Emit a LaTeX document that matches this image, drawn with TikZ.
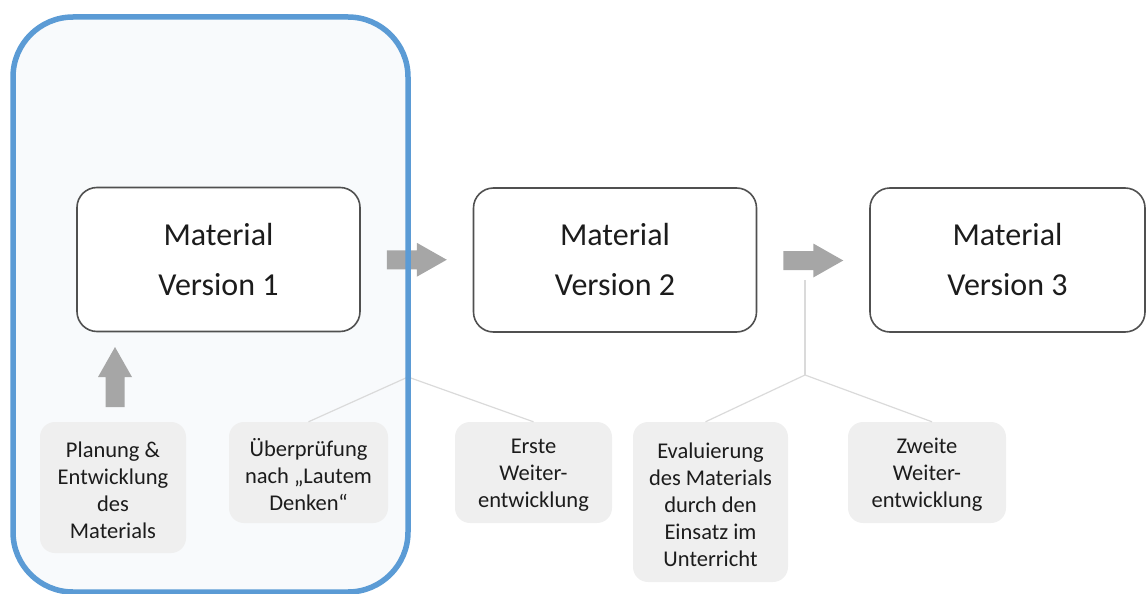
\documentclass[tikz,border=0pt]{standalone}
\usepackage{fontspec}
\setmainfont{Carlito}
\usetikzlibrary{calc}

\definecolor{frameblue}{HTML}{5B9BD5}
\definecolor{framefill}{HTML}{F8FAFC}
\definecolor{stepfill}{HTML}{EFEFEF}
\definecolor{blockgray}{HTML}{A6A6A6}
\definecolor{linkgray}{HTML}{DADADA}
\definecolor{boxline}{HTML}{505050}
\definecolor{ink}{HTML}{1C1C1C}

\tikzset{
  version/.style={draw=boxline, line width=1.6pt, fill=white, rounded corners=20pt,
    minimum width=283pt, minimum height=144pt, inner sep=0pt, align=center,
    text=ink, font=\fontsize{32}{50}\selectfont},
  stepbox/.style={fill=stepfill, rounded corners=15pt, inner sep=0pt, minimum height=101pt},
  steptext/.style={inner sep=0pt, align=center, text=ink,
    font=\fontsize{22.5}{27}\selectfont, yshift=-2.5pt},
  link/.style={draw=linkgray, line width=1.2pt},
  pics/blockarrow/.style={code={
    \fill[blockgray] (-30,-9.5) -- (0,-9.5) -- (0,-17) -- (30,0) -- (0,17)
      -- (0,9.5) -- (-30,9.5) -- cycle;}},
}

\begin{document}
\begin{tikzpicture}[x=1pt, y=-1pt]
  \useasboundingbox (0,0) rectangle (1146,594);

  % phase frame (background)
  \fill[framefill, rounded corners=60pt] (13,17) rectangle (408,592);

  % material versions
  \node[version] (m1) at (218.5,259.5) {Material\\Version 1};
  \node[version] (m2) at (615,260) {Material\\Version 2};
  \node[version, minimum width=275pt] (m3) at (1007.5,260) {Material\\Version 3};

  % working steps
  \node[stepbox, minimum width=146pt, minimum height=131pt,
    label={[steptext]center:{Planung \&\\Entwicklung\\des\\Materials}}] (p1) at (113,487.5) {};
  \node[stepbox, minimum width=159pt,
    label={[steptext]center:{Überprüfung\\nach „Lautem\\Denken“}}] (p2) at (308.5,472.5) {};
  \node[stepbox, minimum width=157pt,
    label={[steptext]center:{Erste\\Weiter-\\entwicklung}}] (p3) at (533.5,472.5) {};
  \node[stepbox, minimum width=155pt, minimum height=160pt,
    label={[steptext]center:{Evaluierung\\des Materials\\durch den\\Einsatz im\\Unterricht}}] (p4) at (710.5,502) {};
  \node[stepbox, minimum width=158pt,
    label={[steptext]center:{Zweite\\Weiter-\\entwicklung}}] (p5) at (927,472.5) {};

  % branch points of the step connectors
  \coordinate (a1foot) at (408,280);
  \coordinate (j1) at (408,377);
  \coordinate (a2foot) at (805,280);
  \coordinate (j2) at (805,375);

  \draw[link] (a1foot) -- (j1);
  \draw[link] (j1) -- (p2.north);
  \draw[link] (j1) -- (p3.north);
  \draw[link] (a2foot) -- (j2);
  \draw[link] (j2) -- ([xshift=-5pt]p4.north);
  \draw[link] (j2) -- ([xshift=5pt]p5.north);

  % block arrows between the stages
  \pic at ($(m1.east)!0.5!(m2.west)$) {blockarrow};
  \pic at ($(m2.east)!0.5!(m3.west)+(0,0.5)$) {blockarrow};
  \pic[rotate=90] at ($(p1.north)!0.5!(p1.north |- m1.south)+(2,0)$) {blockarrow};

  % phase frame (outline on top)
  \draw[frameblue, line width=5.5pt, rounded corners=60pt] (13,17) rectangle (408,592);
\end{tikzpicture}
\end{document}
